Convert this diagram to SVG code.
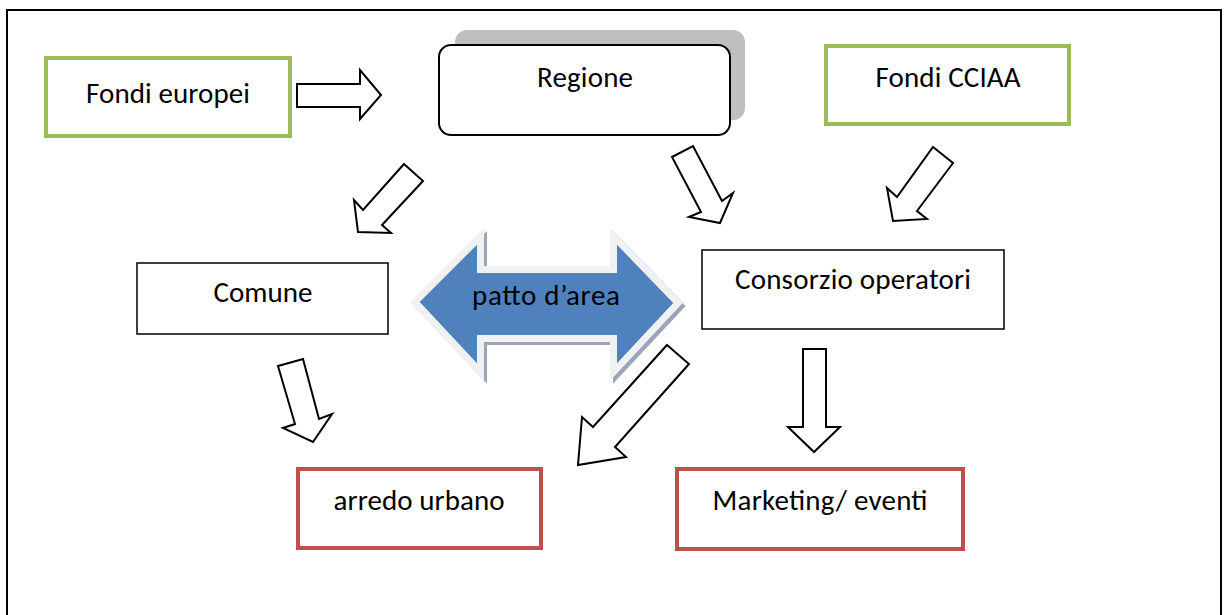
<svg xmlns="http://www.w3.org/2000/svg" width="1224" height="615" viewBox="0 0 1224 615">
  <style>
    .lbl { font-family: Carlito, Lato, "Liberation Sans", sans-serif; font-size: 29px; fill: #000; text-anchor: middle; }
    .green { fill: #fff; stroke: #9BBB59; stroke-width: 4; }
    .red { fill: #fff; stroke: #C0504D; stroke-width: 4; }
    .plain { fill: #fff; stroke: #000; stroke-width: 1.5; }
    .blk { fill: #fff; stroke: #000; stroke-width: 2; stroke-linejoin: miter; }
  </style>

  <rect width="1224" height="615" fill="#fff"/>
  <!-- page frame -->
  <path d="M7,615 V10 H1221 V615" fill="none" stroke="#000" stroke-width="2"/>

  <!-- block-arrow connectors -->
  <g id="connectors">
    <polygon class="blk" points="297,84 360,84 360,70 381,95 360,119 360,107 297,107"/>
    <polygon class="blk" points="404,164 423,181 382,225 391,233 358,232 354,200 363,210"/>
    <polygon class="blk" points="672,157 693,146 722,201 733,193 720,223 689,217 701,212"/>
    <polygon class="blk" points="933,147 953,163 917,211 927,219 893,221 887,188 897,197"/>
    <polygon class="blk" points="278,366 303,359 319,419 332,414 313,442 283,428 295,424"/>
    <polygon class="blk" points="667,345 689,364 615,447 626,457 578,465 582,417 593,427"/>
    <polygon class="blk" points="803,349 826,349 826,427 840,427 814,452 788,427 803,427"/>
  </g>

  <g id="fondi-europei">
    <rect class="green" x="46" y="58" width="244" height="78"/>
    <text class="lbl" x="168" y="103" textLength="164">Fondi europei</text>
  </g>

  <g id="regione">
    <rect x="455" y="30" width="290" height="90" rx="12" fill="#BFBFBF"/>
    <rect x="439" y="45" width="291" height="90" rx="12" fill="#fff" stroke="#000" stroke-width="2"/>
    <text class="lbl" x="585" y="87" textLength="96">Regione</text>
  </g>

  <g id="fondi-cciaa">
    <rect class="green" x="826" y="46" width="243" height="78"/>
    <text class="lbl" x="948" y="87" textLength="145">Fondi CCIAA</text>
  </g>

  <g id="comune">
    <rect class="plain" x="137" y="263" width="251" height="71"/>
    <text class="lbl" x="263" y="302" textLength="99">Comune</text>
  </g>

  <g id="patto-area">
    <!-- soft shadow -->
    <polygon points="423,305 480,248 480,276 620,276 620,248 676,306 620,366 620,338 480,338 480,366"
             fill="#9AA6B8" stroke="#9AA6B8" stroke-width="14" stroke-linejoin="miter"/>
    <polygon points="420,302 477,245 477,273 617,273 617,245 673,303 617,363 617,335 477,335 477,363"
             fill="#4F81BD" stroke="#F0F1F3" stroke-width="14" stroke-linejoin="miter" paint-order="stroke"/>
    <polygon points="420,302 477,245 477,273 617,273 617,245 673,303 617,363 617,335 477,335 477,363"
             fill="#4F81BD"/>
    <text class="lbl" x="546" y="305" textLength="148">patto d’area</text>
  </g>

  <g id="consorzio-operatori">
    <rect class="plain" x="702" y="250" width="302" height="79"/>
    <text class="lbl" x="853" y="289" textLength="236">Consorzio operatori</text>
  </g>

  <g id="arredo-urbano">
    <rect class="red" x="298" y="469" width="243" height="79"/>
    <text class="lbl" x="419" y="510" textLength="171">arredo urbano</text>
  </g>

  <g id="marketing-eventi">
    <rect class="red" x="677" y="469" width="286" height="80"/>
    <text class="lbl" x="820" y="510" textLength="215">Marketing/ eventi</text>
  </g>
</svg>
